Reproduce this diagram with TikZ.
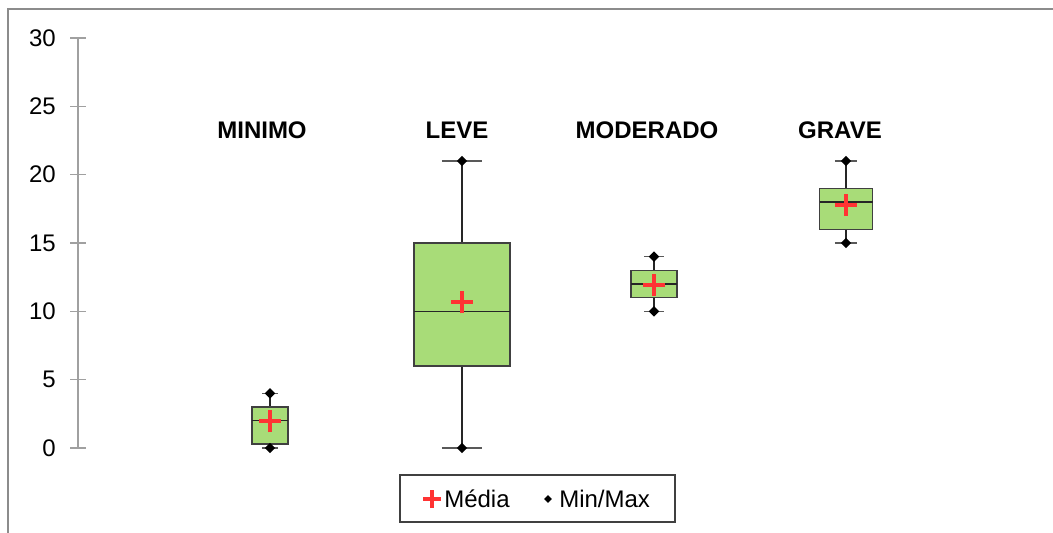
\documentclass[tikz,border=0pt]{standalone}
\usepackage{fontspec}
\setmainfont{Liberation Sans}
\usepackage{tikz}
\usetikzlibrary{shapes.geometric}
\definecolor{boxgreen}{RGB}{168,220,120}
\definecolor{meanred}{RGB}{255,51,51}
\definecolor{axisgray}{RGB}{160,160,160}
\tikzset{
  frame/.style={draw=gray!90, line width=1.1pt},
  axisline/.style={draw=axisgray, line width=1pt},
  ticklabel/.style={anchor=east, inner sep=0pt, font=\fontsize{18}{20}\selectfont},
  grouplabel/.style={inner sep=0pt, font=\fontsize{18}{20}\selectfont\bfseries},
  legendtext/.style={anchor=west, inner sep=0pt, font=\fontsize{18}{20}\selectfont},
  whisker/.style={draw=black!85, line width=1.1pt},
  capline/.style={draw=black!65, line width=1.1pt},
  boxfill/.style={fill=boxgreen, draw=black!75, line width=1.1pt},
  medline/.style={draw=black!85, line width=1.1pt},
  minmax/.style={diamond, fill=black, inner sep=0pt, minimum width=8pt, minimum height=8pt},
  meanmark/.style={draw=meanred, line width=3pt},
  pics/plus/.style={code={\draw[meanmark] (-#1,0) -- (#1,0) (0,-#1) -- (0,#1);}},
}
% x, width, min, q1, median, q3, max, mean
\newcommand{\drawbox}[8]{%
  \draw[whisker] (#1,#3) -- (#1,#4) (#1,#6) -- (#1,#7);
  \draw[capline] ({#1-0.21*#2},#3) -- ({#1+0.21*#2},#3)
    ({#1-0.21*#2},#7) -- ({#1+0.21*#2},#7);
  \filldraw[boxfill] ({#1-#2/2},#4) rectangle ({#1+#2/2},#6);
  \draw[medline] ({#1-#2/2},#5) -- ({#1+#2/2},#5);
  \node[minmax] at (#1,#3) {};
  \node[minmax] at (#1,#7) {};
  \pic at (#1,#8) {plus=8.25pt};
}

\begin{document}
\begin{tikzpicture}[x=0.75pt, y=-0.75pt]
  \useasboundingbox (0,0) rectangle (1053,532);
  % chart frame
  \draw[frame] (8,540) -- (8,9) -- (1060,9);

  \begin{scope}[shift={(0,448)}, y=10.25pt]
    % axis
    \draw[axisline] (78,0) -- (78,30);
    \foreach \v in {0,5,...,30} {
      \draw[axisline] (70,\v) -- (86,\v);
      \node[ticklabel] (tick\v) at (56,\v) {\v};
    }

    % boxes
    \drawbox{270}{36}{0}{0.3}{2}{3}{4}{1.95}
    \drawbox{462}{96}{0}{6}{10}{15}{21}{10.65}
    \drawbox{654}{46}{10}{11}{12}{13}{14}{11.95}
    \drawbox{846}{53}{15}{16}{18}{19}{21}{17.8}
  \end{scope}

  % group labels
  \node[grouplabel] (minimo) at (262,130) {MINIMO};
  \node[grouplabel] (leve) at (457,130) {LEVE};
  \node[grouplabel] (moderado) at (647,130) {MODERADO};
  \node[grouplabel] (grave) at (840,130) {GRAVE};

  % legend
  \draw[draw=black!75, line width=1pt] (400,475) rectangle (675,522);
  \pic at (432,499) {plus=6.75pt};
  \node[legendtext] (media) at (444,499) {Média};
  \node[minmax, minimum width=6pt, minimum height=6pt] (mmark) at (548,499) {};
  \node[legendtext] (minmaxlabel) at (559,499) {Min/Max};
\end{tikzpicture}
\end{document}
